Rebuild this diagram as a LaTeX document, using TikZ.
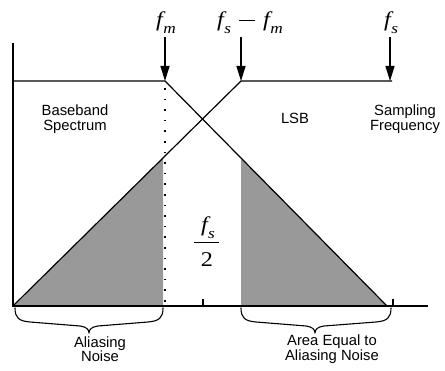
\documentclass[tikz,border=0pt]{standalone}
\usepackage{fontspec}
\setmainfont{Liberation Sans}
\newfontfamily\tms[FakeStretch=1.15]{Liberation Serif}
\usetikzlibrary{arrows.meta}
\definecolor{shadegray}{RGB}{153,153,153}
\newcommand\fvar[1]{{\tms\itshape f\kern0.5pt\raisebox{-0.3em}{\fontsize{15}{15}\selectfont #1}}}
\newcommand\mminus{\rule[0.3em]{16pt}{0.8pt}}
\begin{document}
\begin{tikzpicture}[x=1pt,y=-1pt,
  lbl/.style={font=\fontsize{14.8}{14.5}\selectfont, align=center, inner sep=0pt},
  mlbl/.style={font=\fontsize{21}{24}\selectfont, inner sep=0pt},
  ln/.style={line width=1.2pt},
  arr/.style={line width=1.3pt, -{Triangle[width=9pt,length=15pt]}},
  dotline/.style={line width=1.6pt, dash pattern=on 1.6pt off 9pt},
  brc/.style={line width=1.1pt, line cap=round, line join=round}]
\useasboundingbox (0,0) rectangle (445,371);
% coordinates
\coordinate (vtop) at (13,43);
\coordinate (orig) at (13,306);
\coordinate (hend) at (428,306);
\coordinate (fm) at (165,81);
\coordinate (fsfm) at (241,81);
\coordinate (fs) at (390,81);
\coordinate (topl) at (13,81);
\coordinate (topr) at (392,81);
\coordinate (bb) at (387,306);
% shading
\fill[shadegray] (14,306) -- (163,158) -- (163,306) -- cycle;
\fill[shadegray] (241,158) -- (bb) -- (241,306) -- cycle;
% axes
\draw[ln] (vtop) -- (orig) -- (hend);
% spectra
\draw[ln] (topl) -- (fm) -- (bb);
\draw[ln] (topr) -- (fsfm) -- (orig);
% dotted line
\draw[dotline] (165,88) -- (165,302);
% ticks
\draw[ln] (203,299) -- (203,306);
\draw[ln] (393,299) -- (393,306);
% labels and arrows
\node[mlbl, anchor=base] (lfm) at (166,27) {\fvar{m}};
\node[mlbl, anchor=base] (lfsfm) at (250,27) {\fvar{s}\hspace{8pt}\mminus\hspace{8pt}\fvar{m}};
\node[mlbl, anchor=base] (lfs) at (391,27) {\fvar{s}};
\coordinate (a1) at (165,37);
\coordinate (a2) at (241,37);
\coordinate (a3) at (390,37);
\draw[arr] (a1) -- (fm);
\draw[arr] (a2) -- (fsfm);
\draw[arr] (a3) -- (fs);
% fraction f_s / 2
\node[mlbl, anchor=base] (num) at (208,232) {\fvar{s}};
\node[mlbl, anchor=base] (den) at (207,267) {\tms 2};
\coordinate (barl) at (194,243);
\coordinate (barr) at (219,243);
\draw[line width=1pt] (barl) -- (barr);
% text
\node[lbl] (base) at (75,119) {Baseband\\Spectrum};
\node[lbl] (lsb) at (295,118) {LSB};
\node[lbl] (samp) at (405,119) {Sampling\\Frequency};
\node[lbl] (alias) at (100,349) {Aliasing\\Noise};
\node[lbl] (area) at (332,349) {Area Equal to\\Aliasing Noise};
% braces
\draw[brc] (15,308) .. controls (15,318) and (19,321) .. (30,322) -- (80,326)
  .. controls (86,327) and (89,329) .. (89,333)
  .. controls (89,329) and (92,327) .. (98,326) -- (148,322)
  .. controls (159,321) and (163,318) .. (163,308);
\draw[brc] (241,308) .. controls (241,318) and (245,321) .. (256,322) -- (306,326)
  .. controls (312,327) and (315,329) .. (315,333)
  .. controls (315,329) and (318,327) .. (324,326) -- (376,322)
  .. controls (387,321) and (391,318) .. (391,308);
\end{tikzpicture}
\end{document}
